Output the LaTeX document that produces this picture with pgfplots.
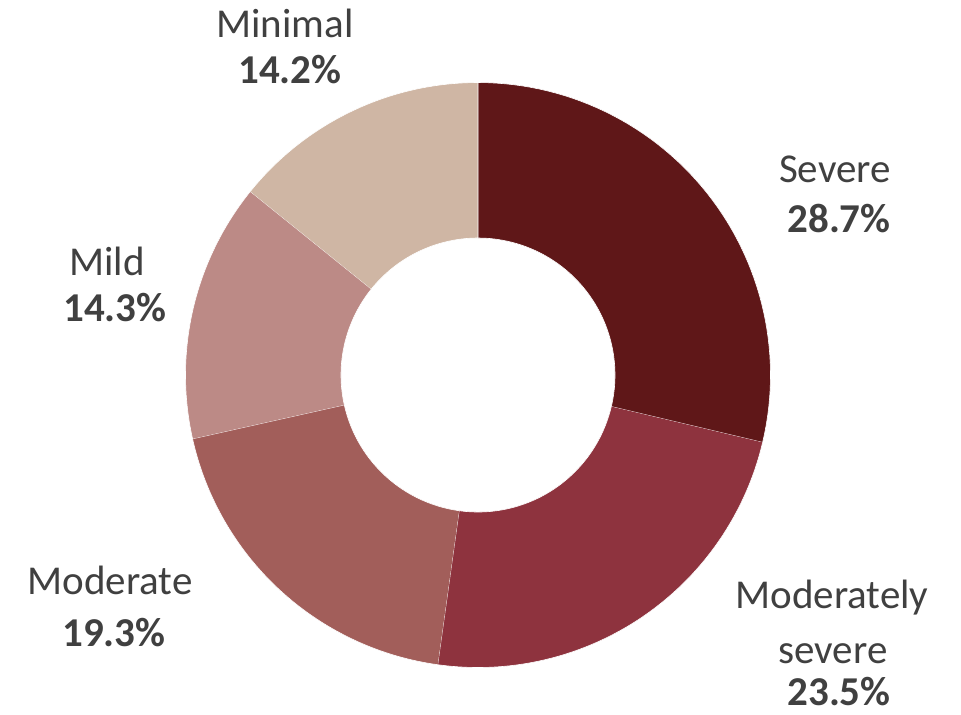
\documentclass[border=0pt]{standalone}
\usepackage{pgfplots}
\pgfplotsset{compat=1.18}
\usepackage{fontspec}
\setmainfont{Carlito}
\definecolor{cSevere}{HTML}{5F1718}
\definecolor{cModSev}{HTML}{8E333E}
\definecolor{cModerate}{HTML}{A25E5A}
\definecolor{cMild}{HTML}{BC8A86}
\definecolor{cMinimal}{HTML}{CFB6A4}
\definecolor{txt}{HTML}{404040}
% data (percent)
\def\vSevere{28.7}
\def\vModSev{23.5}
\def\vModerate{19.3}
\def\vMild{14.3}
\def\vMinimal{14.2}
\newcommand{\slice}[3]{%
\addplot[fill=#1, draw=white, line width=0.3pt, samples at={0,1,...,60,100,101,...,160}, variable=\t]
({478 + ((\t<=60) ? (292.5*cos((#2)+((#3)-(#2))*\t/60)) : (137*cos((#3)-((#3)-(#2))*(\t-100)/60)))},
 {375 - ((\t<=60) ? (292.5*sin((#2)+((#3)-(#2))*\t/60)) : (137*sin((#3)-((#3)-(#2))*(\t-100)/60)))});
}
\begin{document}%
\begin{tikzpicture}
\pgfmathsetmacro\aA{90}
\pgfmathsetmacro\aB{\aA-3.6*\vSevere}
\pgfmathsetmacro\aC{\aB-3.6*\vModSev}
\pgfmathsetmacro\aD{\aC-3.6*\vModerate}
\pgfmathsetmacro\aE{\aD-3.6*\vMild}
\pgfmathsetmacro\aF{\aE-3.6*\vMinimal}
\begin{axis}[hide axis, scale only axis, width=480.5pt, height=357pt,
  xmin=0, xmax=961, ymin=0, ymax=714, y dir=reverse, clip=false]
\slice{cSevere}{\aA}{\aB}
\slice{cModSev}{\aB}{\aC}
\slice{cModerate}{\aC}{\aD}
\slice{cMild}{\aD}{\aE}
\slice{cMinimal}{\aE}{\aF}
\begin{scope}[every node/.style={anchor=base, text=txt, font=\fontsize{20.5}{25}\selectfont, inner sep=0pt}]
\node at (axis cs:285,37) {Minimal};
\node[font=\fontsize{20.5}{25}\selectfont\bfseries] at (axis cs:290,83) {\vMinimal\%};
\node at (axis cs:835,182) {Severe};
\node[font=\fontsize{20.5}{25}\selectfont\bfseries] at (axis cs:839,232) {\vSevere\%};
\node at (axis cs:107,275) {Mild};
\node[font=\fontsize{20.5}{25}\selectfont\bfseries] at (axis cs:115,321) {\vMild\%};
\node at (axis cs:110,594) {Moderate};
\node[font=\fontsize{20.5}{25}\selectfont\bfseries] at (axis cs:114,646) {\vModerate\%};
\node at (axis cs:832,608) {Moderately};
\node at (axis cs:833,663) {severe};
\node[font=\fontsize{20.5}{25}\selectfont\bfseries] at (axis cs:839,705) {\vModSev\%};
\end{scope}
\path (rel axis cs:0,0) rectangle (rel axis cs:1,1);
\end{axis}
\end{tikzpicture}%
\end{document}
